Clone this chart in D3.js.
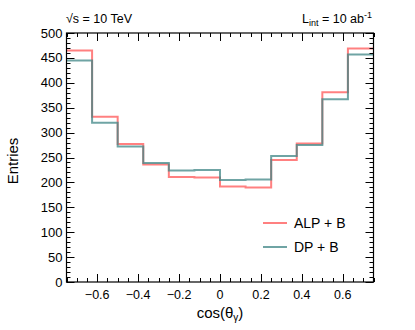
<!DOCTYPE html>
<html><head><meta charset="utf-8">
<script src="https://cdn.jsdelivr.net/npm/d3@7"></script>
<style>body{margin:0;background:#fff;} svg{display:block;font-family:"Liberation Sans",Arial,sans-serif;}</style>
</head><body>
<svg id="c" width="415" height="330"></svg>
<script>
const binEdges = [-0.75,-0.625,-0.5,-0.375,-0.25,-0.125,0,0.125,0.25,0.375,0.5,0.625,0.75];
const alpValues = [465,332,277,236,211,210,192,190,245,278,381,469];
const dpValues  = [445,320,272,239,224,225,205,206,253,275,367,457];
const seriesNames = ["ALP + B","DP + B"];
const xTickValues = [-0.6,-0.4,-0.2,0,0.2,0.4,0.6];
const yTickValues = [0,50,100,150,200,250,300,350,400,450,500];

const W=415,H=330, m={l:66.5,r:41.5,t:33,b:48};
const svg=d3.select("#c");
const x=d3.scaleLinear().domain([-0.75,0.75]).range([m.l,W-m.r]);
const y=d3.scaleLinear().domain([0,500]).range([H-m.b,m.t]);
const x0=m.l,x1=W-m.r,y0=H-m.b,y1=m.t;

function hist(vals,color){
  const pts=[];
  vals.forEach((v,i)=>{pts.push([x(binEdges[i]),y(v)]);pts.push([x(binEdges[i+1]),y(v)]);});
  svg.append("path").attr("d",d3.line()(pts)).attr("fill","none")
    .attr("stroke",color).attr("stroke-width",2).attr("stroke-opacity",0.75);
}
hist(alpValues,"#ff5555");
hist(dpValues,"#3f8585");

// ticks (ROOT style, inward, both sides)
const g=svg.append("g").attr("stroke","#000").attr("stroke-width",1);
const xMinor=d3.range(-0.75,0.7501,0.05);
xMinor.forEach(v=>{
  const major=xTickValues.some(t=>Math.abs(t-v)<1e-6);
  const L=major?8:4, px=Math.round(x(v))+0.5;
  g.append("line").attr("x1",px).attr("x2",px).attr("y1",y0).attr("y2",y0-L);
  g.append("line").attr("x1",px).attr("x2",px).attr("y1",y1).attr("y2",y1+L);
});
d3.range(0,501,10).forEach(v=>{
  const major=v%50===0;
  const L=major?8:4, py=Math.round(y(v))+0.5;
  g.append("line").attr("x1",x0).attr("x2",x0+L).attr("y1",py).attr("y2",py);
  g.append("line").attr("x1",x1).attr("x2",x1-L).attr("y1",py).attr("y2",py);
});
svg.append("rect").attr("x",x0).attr("y",y1).attr("width",x1-x0).attr("height",y0-y1)
  .attr("fill","none").attr("stroke","#000").attr("stroke-width",1.2);

// tick labels
xTickValues.forEach(v=>{
  svg.append("text").attr("x",x(v)).attr("y",y0+17).attr("text-anchor","middle")
    .attr("font-size",12.5).text(v===0?"0":(v<0?"\u2212"+Math.abs(v):String(v)));
});
yTickValues.forEach(v=>{
  svg.append("text").attr("x",x0-4).attr("y",y(v)+4.5).attr("text-anchor","end")
    .attr("font-size",13).text(v);
});

// axis titles
const xt=svg.append("text").attr("x",220).attr("y",318).attr("text-anchor","middle").attr("font-size",15);
xt.append("tspan").text("cos(\u03B8");
xt.append("tspan").attr("font-size",10).attr("dy",3).text("\u03B3");
xt.append("tspan").attr("dy",-3).text(")");
svg.append("text").attr("transform","translate(18,161) rotate(-90)").attr("text-anchor","middle")
  .attr("font-size",15).text("Entries");

// top labels
svg.append("text").attr("x",66).attr("y",23).attr("font-size",12.5).text("\u221As = 10 TeV");
const lt=svg.append("text").attr("x",372).attr("y",23).attr("text-anchor","end").attr("font-size",12.5);
lt.append("tspan").text("L");
lt.append("tspan").attr("font-size",9).attr("dy",3).text("int");
lt.append("tspan").attr("dy",-3).text(" = 10 ab");
lt.append("tspan").attr("font-size",9).attr("dy",-5).text("-1");

// legend
const leg=[[seriesNames[0],"#ff5555",223],[seriesNames[1],"#3f8585",247]];
leg.forEach(([n,c,yy])=>{
  svg.append("line").attr("x1",263).attr("x2",287).attr("y1",yy).attr("y2",yy)
    .attr("stroke",c).attr("stroke-width",2).attr("stroke-opacity",0.75);
  svg.append("text").attr("x",294).attr("y",yy+5).attr("font-size",14).text(n);
});
</script>
</body></html>
